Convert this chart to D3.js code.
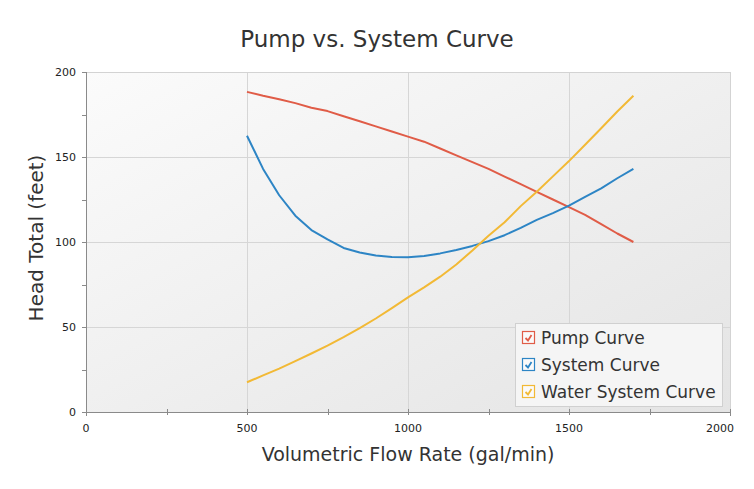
<!DOCTYPE html>
<html>
<head>
<meta charset="utf-8">
<script src="https://cdn.jsdelivr.net/npm/d3@7"></script>
<style>
  html, body { margin: 0; padding: 0; background: #fff; }
  svg { display: block; }
  text { font-family: "DejaVu Sans", sans-serif; }
</style>
</head>
<body>
<svg id="chart" width="754" height="489"></svg>
<script>
// ---- Data ----
const flowRates = [500, 550, 600, 650, 700, 750, 800, 850, 900, 950, 1000, 1050, 1100, 1150, 1200, 1250, 1300, 1350, 1400, 1450, 1500, 1550, 1600, 1650, 1700];
const pumpCurve = [188.3, 186, 184, 181.7, 179, 177, 174, 171, 168, 165, 162, 159, 155, 151, 147, 143, 138.5, 134, 129.5, 125, 120.5, 116, 110.5, 105, 100];
const systemCurve = [162.5, 143, 127.5, 115.5, 107, 101.5, 96.5, 93.8, 92, 91.2, 91, 91.8, 93.3, 95.3, 97.7, 100.5, 104, 108.3, 113, 117, 121.4, 126.5, 131.5, 137.5, 143];
const waterSystemCurve = [17.5, 21.5, 25.5, 29.9, 34.4, 39.1, 44.1, 49.4, 55, 61.1, 67.4, 73.3, 79.6, 86.8, 95, 103.7, 111.6, 121.1, 129.6, 138.6, 147.6, 157.2, 166.9, 176.8, 186];
const seriesNames = ["Pump Curve", "System Curve", "Water System Curve"];
const seriesColors = ["#e05c47", "#2d85c5", "#f2b935"];
const xTicks = [0, 500, 1000, 1500, 2000];
const yTicks = [0, 50, 100, 150, 200];
const titleText = "Pump vs. System Curve";
const xLabel = "Volumetric Flow Rate (gal/min)";
const yLabel = "Head Total (feet)";

const svg = d3.select("#chart");
const L = 86, R = 730, T = 72, B = 412;

const x = d3.scaleLinear().domain([0, 2000]).range([L, R]);
const y = d3.scaleLinear().domain([0, 200]).range([B, T]);

// background gradient
const defs = svg.append("defs");
const grad = defs.append("linearGradient").attr("id", "bg")
  .attr("x1", "0%").attr("y1", "0%").attr("x2", "100%").attr("y2", "100%");
grad.append("stop").attr("offset", "0%").attr("stop-color", "#fbfbfb");
grad.append("stop").attr("offset", "100%").attr("stop-color", "#e4e4e4");

svg.append("rect").attr("x", L).attr("y", T).attr("width", R - L).attr("height", B - T)
  .attr("fill", "url(#bg)");

// grid
const g = svg.append("g");
g.selectAll(".vg").data(xTicks.filter(d => d > 0 && d < 2000)).join("line")
  .attr("x1", d => x(d)).attr("x2", d => x(d)).attr("y1", T).attr("y2", B)
  .attr("stroke", "#d6d6d6").attr("stroke-width", 1).attr("shape-rendering", "crispEdges");
g.selectAll(".hg").data(yTicks.filter(d => d > 0 && d < 200)).join("line")
  .attr("x1", L).attr("x2", R).attr("y1", d => y(d)).attr("y2", d => y(d))
  .attr("stroke", "#d6d6d6").attr("stroke-width", 1).attr("shape-rendering", "crispEdges");

// top & right border
svg.append("line").attr("x1", L).attr("x2", R).attr("y1", T).attr("y2", T)
  .attr("stroke", "#d3d3d3").attr("shape-rendering", "crispEdges");
svg.append("line").attr("x1", R).attr("x2", R).attr("y1", T).attr("y2", B)
  .attr("stroke", "#d3d3d3").attr("shape-rendering", "crispEdges");

// axes
const xAxis = d3.axisBottom(x).tickValues(d3.range(0, 2001, 250)).tickSize(4).tickFormat("");
const yAxis = d3.axisLeft(y).tickValues(d3.range(0, 201, 25)).tickSize(4).tickFormat("");
const xa = svg.append("g").attr("transform", `translate(0,${B})`).call(xAxis);
const ya = svg.append("g").attr("transform", `translate(${L},0)`).call(yAxis);
[xa, ya].forEach(a => {
  a.select(".domain").attr("stroke", "#8a8a8a").attr("shape-rendering", "crispEdges");
  a.selectAll(".tick line").attr("stroke", "#8a8a8a").attr("shape-rendering", "crispEdges");
});
xa.selectAll(".tick line").attr("y1", -3).attr("y2", 3);

// tick labels
svg.selectAll(".xl").data(xTicks).join("text")
  .attr("x", d => d === 2000 ? x(d) - 10 : x(d)).attr("y", 432)
  .attr("text-anchor", "middle").attr("font-size", 11).attr("fill", "#222")
  .text(d => d);
svg.selectAll(".yl").data(yTicks).join("text")
  .attr("x", 76).attr("y", d => y(d) + 4)
  .attr("text-anchor", "end").attr("font-size", 11).attr("fill", "#222")
  .text(d => d);

// lines
const allSeries = [pumpCurve, systemCurve, waterSystemCurve];
const line = d3.line().x((d, i) => x(flowRates[i])).y(d => y(d));
svg.selectAll(".series").data(allSeries).join("path")
  .attr("d", d => line(d)).attr("fill", "none")
  .attr("stroke", (d, i) => seriesColors[i]).attr("stroke-width", 2)
  .attr("stroke-linejoin", "round");

// title
svg.append("text").attr("x", 377).attr("y", 47).attr("text-anchor", "middle")
  .attr("font-size", 23).attr("fill", "#333").text(titleText);
svg.append("text").attr("x", 408).attr("y", 461).attr("text-anchor", "middle")
  .attr("font-size", 19).attr("fill", "#333").text(xLabel);
svg.append("text").attr("transform", "translate(43,238) rotate(-90)").attr("text-anchor", "middle")
  .attr("font-size", 20).attr("fill", "#333").text(yLabel);

// legend
const lg = svg.append("g");
lg.append("rect").attr("x", 515.5).attr("y", 323.5).attr("width", 207).attr("height", 83)
  .attr("fill", "#f5f5f5").attr("stroke", "#d0d0d0");
seriesNames.forEach((name, i) => {
  const cy = 338 + i * 27;
  lg.append("rect").attr("x", 522.5).attr("y", cy - 6.5).attr("width", 12).attr("height", 12)
    .attr("fill", "#fafafa").attr("stroke", seriesColors[i]).attr("stroke-width", 1.2);
  lg.append("path").attr("d", `M${525.5},${cy} L${528},${cy + 2.5} L${531.5},${cy - 3}`)
    .attr("fill", "none").attr("stroke", seriesColors[i]).attr("stroke-width", 1.8);
  lg.append("text").attr("x", 541).attr("y", cy + 6).attr("font-size", 17).attr("fill", "#333")
    .text(name);
});
</script>
</body>
</html>
